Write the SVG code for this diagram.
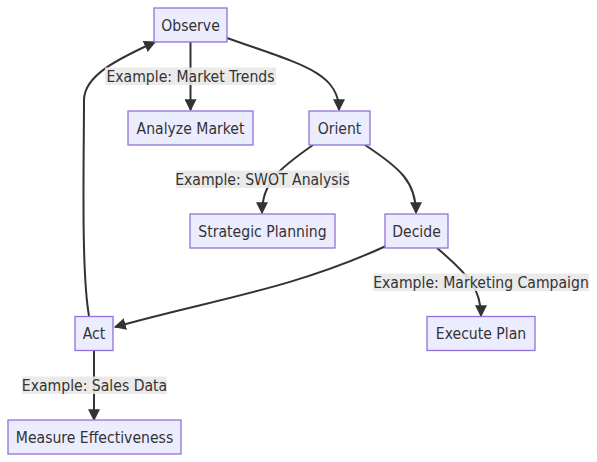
<svg xmlns="http://www.w3.org/2000/svg" width="597" height="462" viewBox="0 0 597 462">
<style>
.node rect{fill:#ECECFF;stroke:#9370DB;stroke-width:1.3}
.node text,.lbl text{font-family:"DejaVu Sans Condensed","DejaVu Sans",sans-serif;font-stretch:condensed;font-size:15.6px;fill:#333;text-anchor:middle;dominant-baseline:central}
.edge{fill:none;stroke:#333;stroke-width:2}
.lbl rect{fill:#e8e8e8;opacity:0.9}
</style>
<defs>
<marker id="arr" viewBox="0 0 10 10" refX="9" refY="5" markerUnits="userSpaceOnUse" markerWidth="12" markerHeight="12" orient="auto">
<path d="M0,0 L10,5 L0,10 z" fill="#333"/>
</marker>
</defs>
<g id="connectors">
<path class="edge" d="M190.5,42 L190.5,110" marker-end="url(#arr)"/>
<path class="edge" d="M227,38 C300,64 339,72 339,110" marker-end="url(#arr)"/>
<path class="edge" d="M313,145 C280,168 262,182 262,213" marker-end="url(#arr)"/>
<path class="edge" d="M365,145 C400,168 416,182 416,213" marker-end="url(#arr)"/>
<path class="edge" d="M386,246 C290,290 210,300 115,327" marker-end="url(#arr)"/>
<path class="edge" d="M437,248 C470,276 481,290 481,316" marker-end="url(#arr)"/>
<path class="edge" d="M89,316 C81,270 84,160 84,100 C84,75 120,58 155,42" marker-end="url(#arr)"/>
<path class="edge" d="M94,350 L94,420" marker-end="url(#arr)"/>
</g>
<g id="labels">
<g class="lbl"><rect x="105" y="67.5" width="171" height="17.5"/><text x="190.5" y="76.5">Example: Market Trends</text></g>
<g class="lbl"><rect x="176" y="170.5" width="173" height="17.5"/><text x="262.5" y="179.5">Example: SWOT Analysis</text></g>
<g class="lbl"><rect x="373" y="273.5" width="216" height="17.5"/><text x="481" y="282.5">Example: Marketing Campaign</text></g>
<g class="lbl"><rect x="22" y="376.5" width="145" height="17.5"/><text x="94.5" y="385.5">Example: Sales Data</text></g>
</g>
<g id="observe" class="node"><rect x="154" y="8" width="73" height="34"/><text x="190.5" y="25.5">Observe</text></g>
<g id="analyze" class="node"><rect x="128" y="111" width="125" height="34"/><text x="190.5" y="128.5">Analyze Market</text></g>
<g id="orient" class="node"><rect x="309" y="111" width="61" height="34"/><text x="339.5" y="128.5">Orient</text></g>
<g id="strategic" class="node"><rect x="190" y="214" width="145" height="34"/><text x="262.5" y="231.5">Strategic Planning</text></g>
<g id="decide" class="node"><rect x="385" y="214" width="63" height="34"/><text x="416.5" y="231.5">Decide</text></g>
<g id="act" class="node"><rect x="75" y="316.5" width="38" height="34"/><text x="94" y="334">Act</text></g>
<g id="execute" class="node"><rect x="427" y="316.5" width="108" height="34"/><text x="481" y="334">Execute Plan</text></g>
<g id="measure" class="node"><rect x="8" y="420" width="173" height="34"/><text x="94.5" y="437.5">Measure Effectiveness</text></g>
</svg>
